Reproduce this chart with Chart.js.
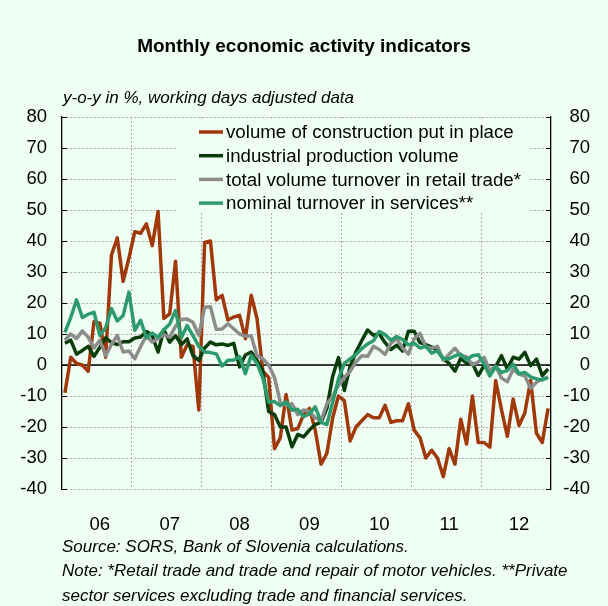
<!DOCTYPE html>
<html>
<head>
<meta charset="utf-8">
<script src="https://cdn.jsdelivr.net/npm/chart.js@4.4.0/dist/chart.umd.min.js"></script>
<style>
  html, body { margin: 0; padding: 0; background: #f0fff4; }
  #wrap { position: relative; width: 608px; height: 606px; font-family: "Liberation Sans", Arial, sans-serif; color: #000; }
  #chart { position: absolute; left: 0; top: 0; }
  .title { position: absolute; left: 0; width: 608px; top: 35px; text-align: center; font-weight: bold; font-size: 19px; }
  .sub { position: absolute; left: 63px; top: 88px; font-style: italic; font-size: 17px; }
  .note { position: absolute; left: 62px; font-style: italic; font-size: 17px; white-space: nowrap; }
</style>
</head>
<body>
<div id="wrap">
  <canvas id="chart" width="608" height="606"></canvas>
  <div class="title">Monthly economic activity indicators</div>
  <div class="sub">y-o-y in %, working days adjusted data</div>
  <div class="note" style="top:537px">Source: SORS, Bank of Slovenia calculations.</div>
  <div class="note" style="top:561px">Note: *Retail trade and trade and repair of motor vehicles. **Private</div>
  <div class="note" style="top:586px">sector services excluding trade and financial services.</div>
</div>
<script>
// categories: one per month, Jan 2006 - Dec 2012
const years = ['06', '07', '08', '09', '10', '11', '12'];
const monthNums = ['01', '02', '03', '04', '05', '06', '07', '08', '09', '10', '11', '12'];
const months = [];
years.forEach(y => monthNums.forEach(m => months.push(m + '/' + y)));

// y-o-y growth, %
const construction = [
  -9, 2.5, 0.5, 0, -2, 14, 13.5, 2.5, 35.5, 41, 27, 34.5,
  43, 42.5, 45.5, 38.5, 49.5, 15, 16.5, 33.5, 2.5, 6.5, 6, -14.5,
  39.5, 40, 21, 22.5, 14.5, 15.5, 16, 8.5, 22.5, 15, -2, -4,
  -27, -23.5, -9.5, -21, -20.5, -16, -14, -21, -32, -28.5, -17, -10,
  -11.5, -24.5, -20, -18, -16, -17, -17, -13, -18.5, -18, -18, -12.5,
  -21, -23.5, -30, -27.5, -30, -36, -27, -32, -17.5, -25.5, -10, -25,
  -25, -26.5, -5, -14.5, -23, -11, -19.5, -15.5, -5, -22, -25, -14
];
const industry = [
  7, 8, 3.5, 4.7, 6, 2.8, 5.7, 8.8, 7.2, 6.6, 7.5, 7.5,
  8.7, 9, 10.8, 9.5, 4.2, 11.4, 7.4, 9.5, 6.6, 8.4, 3, 1.5,
  5.5, 7.4, 6.5, 6.8, 6.3, 7, -0.6, 3.2, 4.2, 1.5, -2, -15,
  -16, -20, -20, -26.4, -22.4, -23.2, -21, -19.2, -18.4, -14, -3.6, 2.4,
  -8.2, -0.4, 4.2, 7.9, 11.3, 9.6, 10.1, 7.2, 5, 6.4, 4.5, 10.9,
  10.9, 7.2, 6.6, 5.8, 4.6, 2, 0.5, -2, 2.2, 0.6, 0.5, -3.4,
  -0.2, -1.8, -0.5, 3, -1.3, 2.5, 1.9, 4.1, -0.2, 1.9, -3.4, -1.3
];
const retail = [
  8, 10, 8.5, 11, 9, 5.5, 8, 3, 6.6, 9.5, 4.2, 4.5,
  2, 6, 9.3, 7.4, 8.5, 9.8, 9, 12.5, 14.7, 14.8, 13.8, 9.5,
  18.6, 18.8, 11.5, 11.6, 13.3, 11.7, 10, 9.3, 9.4, 3, 2, 0,
  -4, -12, -13, -12.5, -16, -14.5, -15, -17, -18, -12.5, -10, -6.5,
  -4, -2, 1, 3, 2.8, 6, 5, 3.4, 7, 8.5, 5.5, 3.5,
  8.5, 10.2, 5.9, 5.4, 6, 1.5, 3.5, 5.4, 3, 2.7, 0, 1,
  2.5, -1.8, -0.5, -4.2, -5.4, -1.4, -3, -3.5, -7.5, -5.6, -4.5, -4
];
const services = [
  10.5, 15.3, 21, 15.3, 16.4, 17, 9.5, 12, 18.2, 14.2, 16, 23.5,
  11.2, 14.4, 8.8, 10.3, 9, 11.4, 13.2, 17.6, 8.8, 12.7, 9.5, 6,
  4.2, 4, 3.6, -0.3, 1.5, 1.6, 2.7, -2.8, 3.1, 0.5, -4.2, -12,
  -11.8, -13.1, -11.9, -14.6, -14.3, -16.7, -15.8, -13.5, -18.4, -19.2, -12, -4.5,
  0.5, 2, 3.4, 5.3, 6.8, 7.8, 10.8, 9.8, 8, 9.2, 8.2, 6.5,
  7, 5.5, 6, 3.8, 4.6, 2, 2, 3, 3.5, 1.6, 3, 3.3,
  0.3, -3.5, -0.5, -2.4, -1.8, 0.3, -2.8, -2.4, -3.8, -4.5, -4.8, -4
];

const seriesNames = [
  'volume of construction put in place',
  'industrial production volume',
  'total volume turnover in retail trade*',
  'nominal turnover in services**'
];
const seriesData = [construction, industry, retail, services];
const seriesColors = ['#a0380a', '#083c08', '#8c8c8c', '#2d9b6e'];

const BG = '#f0fff4';
const FONT = '"Liberation Sans", Arial, sans-serif';
const GRID = '#a8a8a8';

// zero line, inward tick marks and the legend inside the plot area
const insideLegend = {
  id: 'insideLegend',
  beforeDatasetsDraw(chart) {
    const { ctx, chartArea, scales } = chart;
    const y0 = scales.y.getPixelForValue(0);
    ctx.save();
    ctx.strokeStyle = '#000';
    ctx.lineWidth = 1.3;
    ctx.beginPath();
    ctx.moveTo(chartArea.left, y0);
    ctx.lineTo(chartArea.right, y0);
    ctx.stroke();
    // inward ticks on both value axes
    ctx.lineWidth = 1;
    ctx.beginPath();
    scales.y.ticks.forEach(t => {
      const py = Math.round(scales.y.getPixelForValue(t.value)) + 0.5;
      ctx.moveTo(chartArea.left, py);
      ctx.lineTo(chartArea.left + 5, py);
      ctx.moveTo(chartArea.right, py);
      ctx.lineTo(chartArea.right - 5, py);
    });
    ctx.stroke();
    ctx.fillStyle = BG;
    ctx.fillRect(178, chartArea.top + 1.5, 352, 94);
    ctx.restore();
  },
  afterDatasetsDraw(chart) {
    const { ctx, chartArea } = chart;
    ctx.save();
    ctx.font = '18.7px ' + FONT;
    ctx.textBaseline = 'middle';
    ctx.textAlign = 'left';
    chart.data.datasets.forEach((ds, i) => {
      const y = chartArea.top + 15 + i * 23.7;
      ctx.strokeStyle = ds.borderColor;
      ctx.lineWidth = 3.5;
      ctx.beginPath();
      ctx.moveTo(199, y);
      ctx.lineTo(223, y);
      ctx.stroke();
      ctx.fillStyle = '#000';
      ctx.fillText(ds.label, 226, y + 1);
    });
    ctx.restore();
  }
};

const tickFont = { family: FONT, size: 18.5 };

new Chart(document.getElementById('chart'), {
  type: 'line',
  data: {
    labels: months,
    datasets: seriesData.map((d, i) => ({
      label: seriesNames[i],
      data: d,
      borderColor: seriesColors[i],
      backgroundColor: seriesColors[i],
      borderWidth: 3.5,
      pointRadius: 0,
      tension: 0,
      borderJoinStyle: 'round',
      order: 3 - i
    }))
  },
  options: {
    responsive: false,
    devicePixelRatio: 1,
    animation: false,
    layout: { padding: { top: 117, bottom: 0, left: 0, right: 18 } },
    plugins: {
      legend: { display: false },
      title: { display: false },
      tooltip: { enabled: false }
    },
    scales: {
      x: {
        type: 'category',
        offset: true,
        grid: {
          offset: true,
          drawTicks: false,
          lineWidth: 1,
          color: c => (c.index % 12 === 0 && c.index > 0 && c.index < months.length) ? GRID : 'rgba(0,0,0,0)'
        },
        border: { display: false, dash: [2, 2] },
        ticks: {
          autoSkip: false,
          maxRotation: 0,
          minRotation: 0,
          padding: 25,
          color: '#000',
          font: tickFont,
          callback: (v, i) => (i % 12 === 6 ? years[Math.floor(i / 12)] : '')
        },
        afterFit: s => { s.height = 117; }
      },
      y: {
        position: 'left',
        min: -40,
        max: 80,
        grid: { color: GRID, lineWidth: 1, drawTicks: false },
        border: { display: true, color: '#000', width: 1.3, dash: [2, 2] },
        ticks: { stepSize: 10, padding: 15, color: '#000', font: tickFont },
        afterFit: s => { s.width = 62; }
      },
      y2: {
        position: 'right',
        min: -40,
        max: 80,
        grid: { display: false, drawTicks: false },
        border: { display: true, color: '#000', width: 1.3 },
        ticks: { stepSize: 10, padding: 8, color: '#000', font: tickFont, crossAlign: 'far' },
        afterFit: s => { s.width = 39; }
      }
    }
  },
  plugins: [insideLegend]
});
</script>
</body>
</html>
